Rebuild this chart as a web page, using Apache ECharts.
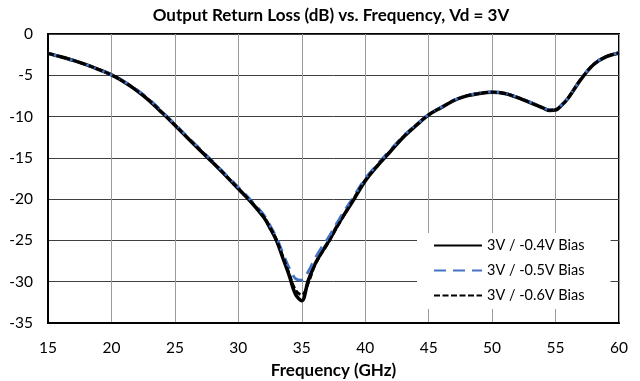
<!DOCTYPE html>
<html>
<head>
<meta charset="utf-8">
<script src="https://cdn.jsdelivr.net/npm/echarts@6/dist/echarts.min.js"></script>
<style>
  html, body { margin: 0; padding: 0; background: #fff; }
  #chart { width: 640px; height: 381px; }
</style>
</head>
<body>
<div id="chart"></div>
<script>
// Frequency points (GHz)
const freqs = [15, 16, 17, 18, 19, 20, 21, 22, 23, 24, 25, 26, 27, 28, 29, 30, 31, 32, 32.5, 33, 33.5, 34, 34.5, 35, 35.5, 36, 36.5, 37, 38, 39, 40, 41, 42, 43, 44, 45, 46, 47, 48, 49, 50, 51, 52, 53, 54, 54.5, 55, 55.5, 56, 57, 58, 59, 60];

// Output return loss (dB) for each gate bias
const bias04 = [-2.34, -2.75, -3.2, -3.72, -4.3, -4.95, -5.8, -6.85, -8.1, -9.55, -11.05, -12.6, -14.1, -15.6, -17.15, -18.75, -20.35, -22.2, -23.5, -25.0, -27.1, -29.2, -31.5, -32.3, -29.9, -28.0, -26.6, -25.4, -22.7, -20.3, -17.8, -15.9, -14.2, -12.5, -11.1, -9.8, -8.9, -8.05, -7.5, -7.2, -7.06, -7.2, -7.7, -8.3, -8.95, -9.25, -9.2, -8.6, -7.75, -5.5, -3.7, -2.75, -2.3];
const bias05 = [-2.34, -2.75, -3.2, -3.72, -4.3, -4.95, -5.75, -6.75, -7.95, -9.4, -10.9, -12.45, -13.95, -15.45, -17.0, -18.55, -20.15, -21.9, -23.2, -24.6, -26.5, -28.3, -29.6, -29.8, -28.8, -27.3, -26.0, -24.9, -22.3, -19.9, -17.5, -15.7, -14.0, -12.35, -11.0, -9.75, -8.85, -8.0, -7.45, -7.15, -7.03, -7.17, -7.65, -8.25, -8.9, -9.2, -9.15, -8.55, -7.7, -5.45, -3.65, -2.72, -2.28];
const bias06 = [-2.34, -2.75, -3.2, -3.72, -4.3, -4.95, -5.8, -6.85, -8.05, -9.5, -11.0, -12.55, -14.05, -15.55, -17.1, -18.7, -20.3, -22.1, -23.4, -24.9, -26.9, -29.0, -31.0, -31.6, -30.2, -28.1, -26.7, -25.5, -22.8, -20.2, -17.7, -15.85, -14.15, -12.45, -11.05, -9.78, -8.88, -8.03, -7.48, -7.18, -7.05, -7.19, -7.68, -8.28, -8.93, -9.23, -9.18, -8.58, -7.73, -5.48, -3.68, -2.74, -2.3];

const seriesNames = ['3V / -0.4V Bias', '3V / -0.5V Bias', '3V / -0.6V Bias'];
const xTicks = [15, 20, 25, 30, 35, 40, 45, 50, 55, 60];
const yTicks = [0, -5, -10, -15, -20, -25, -30, -35];

const FONT = 'Lato, "Liberation Sans", sans-serif';

function pairs(vals) {
  return freqs.map((f, i) => [f, vals[i]]);
}

const chart = echarts.init(document.getElementById('chart'), null, { renderer: 'canvas' });

chart.setOption({
  animation: false,
  backgroundColor: '#ffffff',
  textStyle: { fontFamily: FONT, color: '#000' },
  title: {
    text: 'Output Return Loss (dB) vs. Frequency, Vd = 3V',
    left: 331,
    textAlign: 'center',
    top: 7,
    padding: 0,
    textStyle: { fontFamily: FONT, fontSize: 17, fontWeight: 'bold', color: '#000', lineHeight: 18 }
  },
  grid: {
    left: 48, right: 21, top: 34, bottom: 58,
    outerBoundsMode: 'none',
    containLabel: false,
    show: true,
    borderColor: '#000',
    borderWidth: 2,
    backgroundColor: 'transparent'
  },
  legend: {
    orient: 'vertical',
    left: 417,
    top: 233,
    padding: [5, 26, 6, 16],
    itemGap: 10,
    itemWidth: 48,
    itemHeight: 14,
    backgroundColor: '#ffffff',
    itemStyle: { opacity: 0 },
    data: seriesNames,
    textStyle: { fontFamily: FONT, fontSize: 14.5, color: '#000', lineHeight: 14 }
  },
  xAxis: {
    type: 'value',
    min: xTicks[0],
    max: xTicks[xTicks.length - 1],
    interval: 5,
    name: 'Frequency (GHz)',
    nameLocation: 'middle',
    nameGap: 39,
    nameTextStyle: { fontFamily: FONT, fontSize: 17, fontWeight: 'bold', color: '#000' },
    axisLine: { show: true, onZero: false, lineStyle: { color: '#000', width: 2 } },
    axisTick: { show: false },
    axisLabel: { fontFamily: FONT, fontSize: 15.5, color: '#000', margin: 17 },
    splitLine: { show: true, lineStyle: { color: '#9a9a9a', width: 1 } }
  },
  yAxis: {
    type: 'value',
    min: yTicks[yTicks.length - 1],
    max: yTicks[0],
    interval: 5,
    axisLine: { show: true, onZero: false, lineStyle: { color: '#000', width: 2 } },
    axisTick: { show: false },
    axisLabel: { fontFamily: FONT, fontSize: 15.5, color: '#000', margin: 15 },
    splitLine: { show: true, lineStyle: { color: '#404040', width: 1 } }
  },
  series: [
    {
      name: seriesNames[0],
      type: 'line',
      data: pairs(bias04),
      smooth: 0.35,
      symbol: 'none',
      lineStyle: { color: '#000000', width: 3.5 },
      itemStyle: { color: '#000000' },
      z: 2
    },
    {
      name: seriesNames[1],
      type: 'line',
      data: pairs(bias05),
      smooth: 0.35,
      symbol: 'none',
      lineStyle: { color: '#4472C4', width: 2.8, type: [12, 7] },
      itemStyle: { color: '#4472C4' },
      z: 3
    },
    {
      name: seriesNames[2],
      type: 'line',
      data: pairs(bias06),
      smooth: 0.35,
      symbol: 'none',
      lineStyle: { color: '#000000', width: 2.8, type: [6, 2.5] },
      itemStyle: { color: '#000000' },
      z: 4
    }
  ]
});
</script>
</body>
</html>
